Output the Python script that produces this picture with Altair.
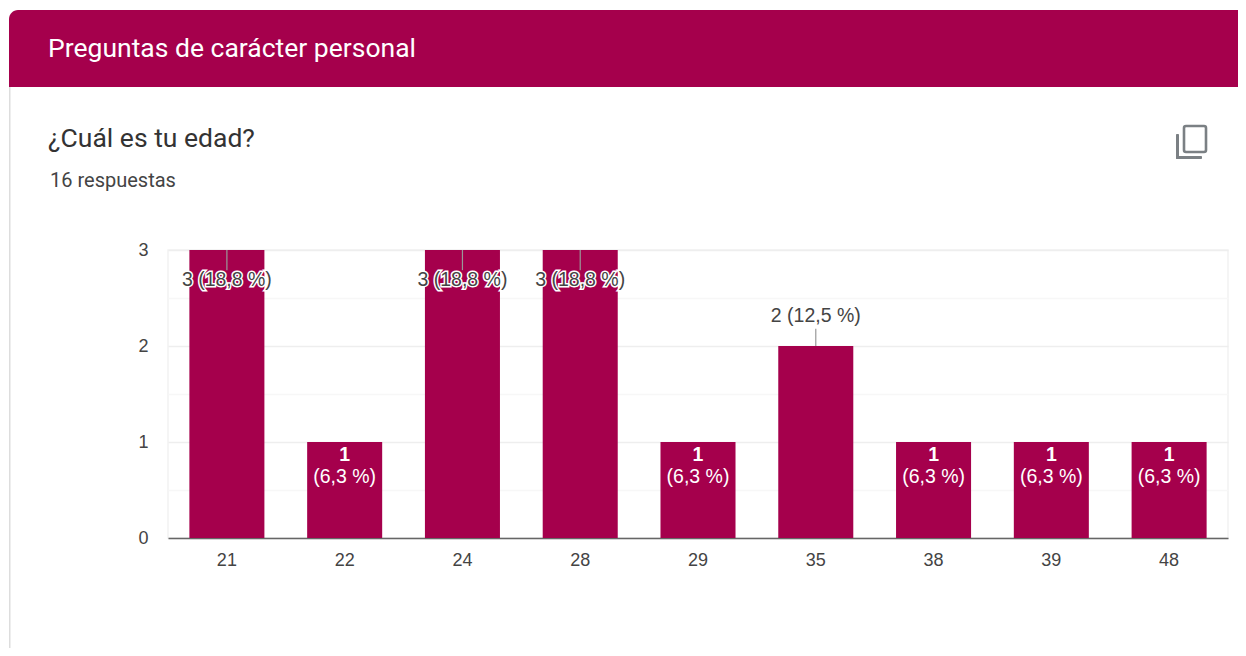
import altair as alt
import pandas as pd

ages = ["21", "22", "24", "28", "29", "35", "38", "39", "48"]
counts = [3, 1, 3, 3, 1, 2, 1, 1, 1]
percents = ["18,8 %", "6,3 %", "18,8 %", "18,8 %", "6,3 %", "12,5 %", "6,3 %", "6,3 %", "6,3 %"]

CRIMSON = "#a5004c"
OX, OY = 168, 250
PLOT_W, PLOT_H = 1060, 288
TOTAL_W, TOTAL_H = 1230, 640
PAGE_R, PAGE_B = 8 + TOTAL_W, 8 + TOTAL_H


def px(x):
    return alt.value(x - OX)


def py(y):
    return alt.value(y - OY)


df = pd.DataFrame({"age": ages, "count": counts, "pct": percents})
df["outside"] = df["count"].astype(str) + " (" + df["pct"] + ")"
df["inside"] = "(" + df["pct"] + ")"
df["leader_end"] = df["count"].map(lambda c: c - 0.21 if c == 3 else c + 0.18)

x = alt.X(
    "age:N",
    sort=ages,
    title=None,
    scale=alt.Scale(paddingInner=0.363, paddingOuter=0.1815),
    axis=alt.Axis(
        labelAngle=0,
        labelFont="Liberation Sans",
        labelFontSize=18,
        labelColor="#444444",
        labelPadding=13,
        ticks=False,
        domainColor="#666666",
        domainWidth=1.6,
        grid=False,
    ),
)
y = alt.Y(
    "count:Q",
    title=None,
    scale=alt.Scale(domain=[0, 3], nice=False),
    axis=alt.Axis(
        values=[0, 0.5, 1, 1.5, 2, 2.5, 3],
        labelExpr="datum.value % 1 ? '' : datum.value",
        labelFont="Liberation Sans",
        labelFontSize=18,
        labelColor="#444444",
        labelPadding=20,
        ticks=False,
        domain=False,
        grid=True,
        gridColor={"condition": {"test": "datum.value % 1", "value": "#f7f7f7"}, "value": "#eeeeee"},
        gridWidth=1.5,
    ),
)

base = alt.Chart(df)
bars = base.mark_bar(color=CRIMSON).encode(x=x, y=y)

leaders = (
    base.transform_filter("datum.count >= 2")
    .mark_rule(color="#999999", strokeWidth=1.2)
    .encode(x=alt.X("age:N", sort=ages), y=alt.Y("count:Q"), y2="leader_end:Q")
)

text_kw = dict(font="Liberation Sans", fontSize=19.5)
tall = base.transform_filter("datum.count == 3")
mid = base.transform_filter("datum.count == 2")
short = base.transform_filter("datum.count == 1")
enc = dict(x=alt.X("age:N", sort=ages), y=alt.Y("count:Q"), text="outside:N")

tall_halo = tall.mark_text(dy=30, color="#ffffff", stroke="#ffffff", strokeWidth=3, **text_kw).encode(**enc)
tall_text = tall.mark_text(dy=30, color="#444444", **text_kw).encode(**enc)
mid_text = mid.mark_text(dy=-30, color="#444444", **text_kw).encode(**enc)
one_count = short.mark_text(dy=13, color="#ffffff", fontWeight="bold", **text_kw).encode(
    x=alt.X("age:N", sort=ages), y=alt.Y("count:Q"), text="count:Q"
)
one_pct = short.mark_text(dy=35, color="#ffffff", **text_kw).encode(
    x=alt.X("age:N", sort=ages), y=alt.Y("count:Q"), text="inside:N"
)

# Page furniture around the chart
one = alt.Chart(pd.DataFrame({"k": [0]}))
header = one.mark_rect(color=CRIMSON, cornerRadiusTopLeft=9).encode(
    x=px(9), x2=px(PAGE_R), y=py(10), y2=py(87)
)
side = one.mark_rect(color="#dddddd").encode(x=px(9), x2=px(10.5), y=py(87), y2=py(PAGE_B))
head_title = one.mark_text(
    text="Preguntas de carácter personal", font="Roboto", fontSize=26.5,
    color="#ffffff", align="left", baseline="middle",
).encode(x=px(48), y=py(49))
question = one.mark_text(
    text="¿Cuál es tu edad?", font="Roboto", fontSize=26.5, color="#333333",
    align="left", baseline="middle",
).encode(x=px(48), y=py(139))
answers = one.mark_text(
    text="16 respuestas", font="Roboto", fontSize=20, color="#444444",
    align="left", baseline="middle",
).encode(x=px(50), y=py(181))
icon_front = one.mark_rect(
    fill="#ffffff", stroke="#7b8084", strokeWidth=2.6, cornerRadius=2
).encode(x=px(1184), x2=px(1206), y=py(126), y2=py(152))
icon_v = one.mark_rect(color="#7b8084", cornerRadius=1).encode(x=px(1176), x2=px(1179), y=py(134), y2=py(159))
icon_h = one.mark_rect(color="#7b8084", cornerRadius=1).encode(x=px(1176), x2=px(1202), y=py(156), y2=py(159))

chart = (
    alt.layer(
        header, side, head_title, question, answers, icon_front, icon_v, icon_h,
        bars, leaders, tall_halo, tall_text, mid_text, one_count, one_pct,
    )
    .properties(
        width=PLOT_W,
        height=PLOT_H,
        autosize=alt.AutoSizeParams(type="none"),
        padding={"left": OX - 8, "top": OY - 8, "right": TOTAL_W - (OX - 8) - PLOT_W, "bottom": TOTAL_H - (OY - 8) - PLOT_H},
        background="#ffffff",
    )
    .configure_view(stroke="#f2f2f2", strokeWidth=1.5)
)

chart.save("out.html", embed_options={"renderer": "svg", "actions": False})
